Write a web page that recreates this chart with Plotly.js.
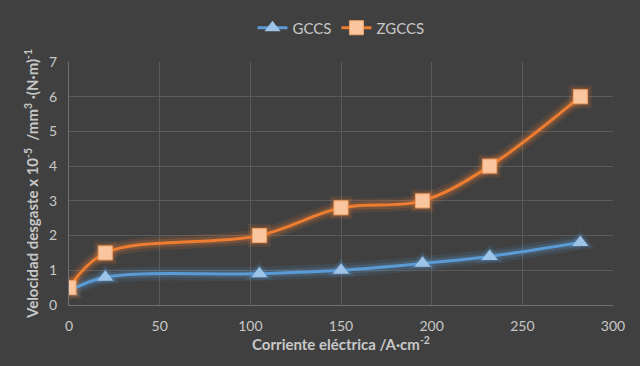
<!DOCTYPE html>
<html><head><meta charset="utf-8">
<script src="https://cdn.plot.ly/plotly-3.0.1.min.js"></script>
<style>html,body{margin:0;padding:0;background:#404040;}</style>
</head><body>
<div id="chart" style="width:640px;height:366px;"></div>
<script>
const xVals = [0, 20, 105, 150, 195, 232, 282];
const gccs = [0.4, 0.8, 0.9, 1.0, 1.2, 1.4, 1.8];
const zgccs = [0.5, 1.5, 2.0, 2.8, 3.0, 4.0, 6.0];
const xTicks = [0, 50, 100, 150, 200, 250, 300];
const yTicks = [0, 1, 2, 3, 4, 5, 6, 7];

function glow(y, color, w, sym, ms) {
  return {x: xVals, y: y, mode: 'lines+markers', line: {shape: 'spline', smoothing: 1, color: color, width: w},
    marker: {symbol: sym, size: ms, color: color, line: {width: 0}},
    showlegend: false, hoverinfo: 'skip'};
}
const traces = [
  glow(gccs, 'rgba(91,155,213,0.12)', 14, 'triangle-up', 25),
  glow(gccs, 'rgba(91,155,213,0.2)', 8, 'triangle-up', 19),
  glow(zgccs, 'rgba(237,125,49,0.12)', 14, 'square', 23),
  glow(zgccs, 'rgba(237,125,49,0.22)', 8, 'square', 18),
  {x: xVals, y: gccs, name: 'GCCS', mode: 'lines+markers',
   line: {shape: 'spline', smoothing: 1, color: '#5b9bd5', width: 3},
   marker: {symbol: 'triangle-up', size: 14, color: '#9dc3e6', line: {width: 0}}},
  {x: xVals, y: zgccs, name: 'ZGCCS', mode: 'lines+markers',
   line: {shape: 'spline', smoothing: 1, color: '#ed7d31', width: 3},
   marker: {symbol: 'square', size: 14, color: '#f9c6a0', line: {width: 1, color: '#f4a46a'}}}
];
const layout = {
  width: 640, height: 366,
  paper_bgcolor: '#404040', plot_bgcolor: '#404040',
  font: {family: 'Lato, "Open Sans", sans-serif', color: '#c8c8c8', size: 14},
  margin: {l: 69, r: 27, t: 53, b: 61},
  showlegend: true,
  legend: {orientation: 'h', x: 0.5, xanchor: 'center', y: 1.14, yanchor: 'middle',
    font: {size: 15, color: '#c8c8c8'}, bgcolor: 'rgba(0,0,0,0)', traceorder: 'normal'},
  xaxis: {range: [0, 300], tickvals: xTicks, ticktext: xTicks.map(String),
    showgrid: true, gridcolor: '#5a5a5a', gridwidth: 1, zeroline: false,
    showline: true, linecolor: '#707070', ticks: '', ticklabelstandoff: 8,
    title: {text: '<b>Corriente eléctrica /A·cm<sup>-2</sup></b>', font: {size: 15, color: '#c8c8c8'}, standoff: 5}},
  yaxis: {range: [0, 7], tickvals: yTicks, showgrid: true, gridcolor: '#5a5a5a', gridwidth: 1,
    zeroline: false, showline: true, linecolor: '#707070', ticks: '', ticklabelstandoff: 8,
    title: {text: '<b>Velocidad desgaste x 10<sup>-5</sup>  /mm<sup>3</sup> ·(N·m)<sup>-1</sup></b>', font: {size: 15, color: '#c8c8c8'}, standoff: 6}}
};
Plotly.newPlot('chart', traces, layout, {displayModeBar: false, staticPlot: true});
</script>
</body></html>
